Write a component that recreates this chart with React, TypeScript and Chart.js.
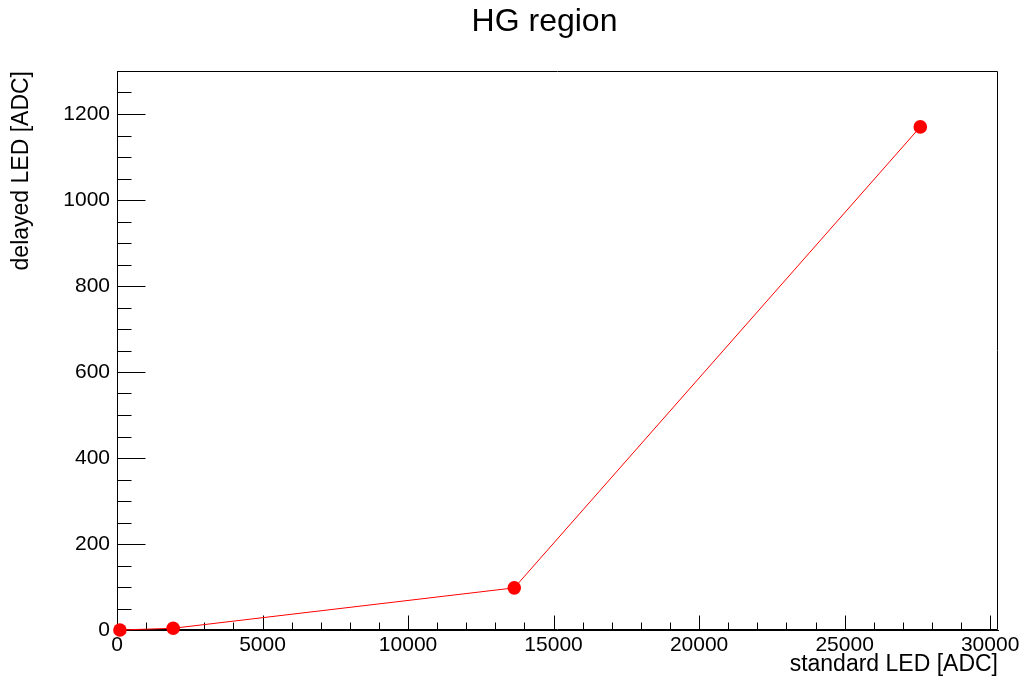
import React, { useEffect, useRef } from "react";
import { Chart, registerables } from "chart.js";

Chart.register(...registerables);

const TITLE = "HG region";
const X_TITLE = "standard LED [ADC]";
const Y_TITLE = "delayed LED [ADC]";

const standardLED = [100, 1930, 13650, 27600];
const delayedLED = [0, 4, 98, 1170];

const X_TICKS = [0, 5000, 10000, 15000, 20000, 25000, 30000];
const Y_TICKS = [0, 200, 400, 600, 800, 1000, 1200];

const X_MIN = 0;
const X_MAX = 30270;
const Y_MIN = 0;
const Y_MAX = 1300;
const X_MAJOR_STEP = 5000;
const X_MINOR_STEP = 1000;
const Y_MAJOR_STEP = 200;
const Y_MINOR_STEP = 50;

const FONT = "'Liberation Sans', Arial, Helvetica, sans-serif";

const frameTicks = {
  id: "frameTicks",
  beforeDatasetsDraw(chart: any) {
    const { ctx, chartArea: a, scales } = chart;
    const xs = scales.x;
    const ys = scales.y;
    ctx.save();
    ctx.strokeStyle = "#000";
    ctx.lineWidth = 1;
    const L = Math.round(a.left) + 0.5;
    const R = Math.round(a.right) - 0.5;
    const T = Math.round(a.top) + 0.5;
    const B = Math.round(a.bottom) - 0.5;
    ctx.beginPath();
    ctx.moveTo(L, T);
    ctx.lineTo(R, T);
    ctx.lineTo(R, B);
    ctx.moveTo(L, T);
    ctx.lineTo(L, B);
    ctx.lineTo(R, B);
    ctx.stroke();

    ctx.beginPath();
    for (let v = X_MIN + X_MINOR_STEP; v < X_MAX; v += X_MINOR_STEP) {
      const px = Math.round(xs.getPixelForValue(v)) + 0.5;
      const len = v % X_MAJOR_STEP === 0 ? 14 : 7;
      ctx.moveTo(px, B);
      ctx.lineTo(px, B - len);
    }
    for (let v = Y_MIN + Y_MINOR_STEP; v < Y_MAX; v += Y_MINOR_STEP) {
      const py = Math.round(ys.getPixelForValue(v)) + 0.5;
      const len = v % Y_MAJOR_STEP === 0 ? 28 : 14;
      ctx.moveTo(L, py);
      ctx.lineTo(L + len, py);
    }
    ctx.stroke();
    ctx.restore();
  },
  afterDraw(chart: any) {
    const { ctx } = chart;
    ctx.save();
    ctx.fillStyle = "#000";
    ctx.font = `32px ${FONT}`;
    ctx.textAlign = "center";
    ctx.textBaseline = "alphabetic";
    ctx.fillText(TITLE, 544.5, 31);
    ctx.restore();
  },
};

export default function App() {
  const ref = useRef<HTMLCanvasElement | null>(null);

  useEffect(() => {
    if (!ref.current) return;
    const points = standardLED.map((x, i) => ({ x, y: delayedLED[i] }));
    const chart = new Chart(ref.current, {
      type: "scatter",
      data: {
        datasets: [
          {
            data: points,
            showLine: true,
            borderColor: "#ff0000",
            borderWidth: 1,
            backgroundColor: "#ff0000",
            pointRadius: 6.8,
            pointBorderWidth: 0,
            pointBackgroundColor: "#ff0000",
            clip: false as any,
          },
        ],
      },
      options: {
        animation: false,
        responsive: false,
        devicePixelRatio: 1,
        layout: { padding: { left: 0, top: 71, right: 26, bottom: 0 } },
        plugins: {
          legend: { display: false },
          tooltip: { enabled: false },
          title: { display: false },
        },
        scales: {
          x: {
            type: "linear",
            min: X_MIN,
            max: X_MAX,
            afterFit: (s: any) => {
              s.height = 51;
            },
            afterBuildTicks: (s: any) => {
              s.ticks = X_TICKS.map((v) => ({ value: v }));
            },
            grid: { display: true, drawOnChartArea: false, drawTicks: false },
            border: { display: true, color: "#000", width: 1 },
            ticks: {
              padding: 3,
              color: "#000",
              maxRotation: 0,
              autoSkip: false,
              font: { family: FONT, size: 21 },
              callback: (v: any) => String(v),
            },
            title: {
              display: true,
              text: X_TITLE,
              align: "end",
              color: "#000",
              font: { family: FONT, size: 23 },
              padding: { top: 0, bottom: 3 },
            },
          },
          y: {
            type: "linear",
            min: Y_MIN,
            max: Y_MAX,
            afterFit: (s: any) => {
              s.width = 117;
            },
            afterBuildTicks: (s: any) => {
              s.ticks = Y_TICKS.map((v) => ({ value: v }));
            },
            grid: { display: true, drawOnChartArea: false, drawTicks: false },
            border: { display: true, color: "#000", width: 1 },
            ticks: {
              padding: 7,
              color: "#000",
              autoSkip: false,
              font: { family: FONT, size: 21 },
              callback: (v: any) => String(v),
            },
            title: {
              display: true,
              text: Y_TITLE,
              align: "end",
              color: "#000",
              font: { family: FONT, size: 23 },
              padding: { top: 8, bottom: 0 },
            },
          },
        },
      },
      plugins: [frameTicks],
    });
    return () => chart.destroy();
  }, []);

  return (
    <div style={{ position: "absolute", left: 0, top: 0, width: 1024, height: 681, background: "#fff" }}>
      <canvas ref={ref} width={1024} height={681} style={{ display: "block" }} />
    </div>
  );
}
